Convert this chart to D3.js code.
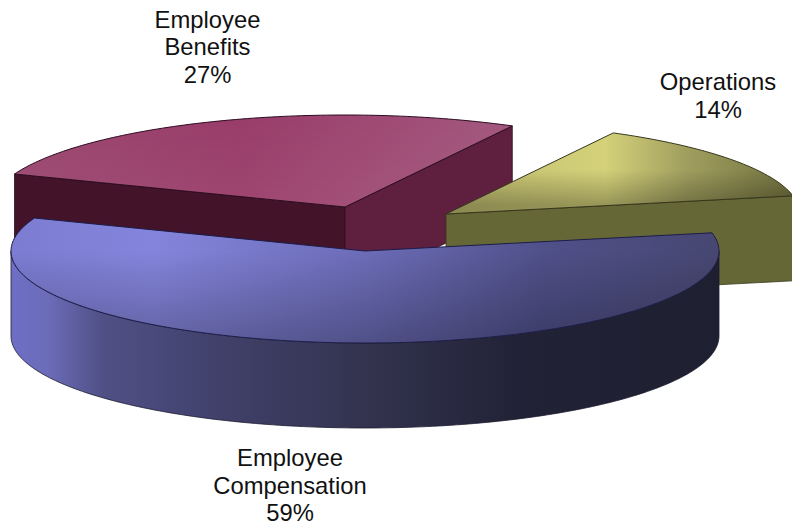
<!DOCTYPE html>
<html>
<head>
<meta charset="utf-8">
<script src="https://cdn.jsdelivr.net/npm/d3@7"></script>
<style>
  html, body { margin: 0; padding: 0; background: #fff; }
  svg { display: block; }
  text { font-family: "Liberation Sans", Arial, sans-serif; font-size: 23.8px; fill: #111; text-anchor: middle; }
</style>
</head>
<body>
<svg id="chart" width="792" height="529"></svg>
<script>
// Budget shares
const categories = ["Employee Compensation", "Employee Benefits", "Operations"];
const shares = [59, 27, 14];
const labelLines = [["Employee", "Compensation"], ["Employee", "Benefits"], ["Operations"]];

// Ellipse of the tilted disc and the depth of its rim
const rx = 354, ry = 92, depth = 85;
const firstAngle = 78.6 * Math.PI / 180;

// Exploded centre of each slice, and where its label block sits
const centres = [[365, 251], [345, 207], [446, 214]];
const labelAnchors = [[290, 466], [207.5, 27.5], [718, 90]];
const lineGap = 27.5;

// Back-to-front painting order
const paintOrder = [1, 2, 0];

// Paint per slice
const rimStops = [
  [[0, "#6e6ec6"], [0.05, "#6c6cba"], [0.13, "#505086"], [0.3, "#40406a"], [0.5, "#33334f"], [0.72, "#212236"], [1, "#1e1f30"]],
  [[0, "#431429"], [1, "#431429"]],
  [[0, "#666737"], [1, "#666737"]]
];
const topStops = [
  [[0, "#7c7cd2"], [0.2, "#8484dc"], [0.5, "#6c6cb8"], [0.75, "#50508a"], [1, "#474772"]],
  [[0, "#9a4870"], [0.35, "#993c69"], [0.7, "#a2557c"], [1, "#aa6288"]],
  [[0, "#c2bf70"], [0.45, "#d4d17a"], [0.68, "#a09e5e"], [1, "#6f6f3d"]]
];
const shadeStops = [
  [[0, "#000", 0], [0.5, "#000", 0], [1, "#000", 0.26]],
  [[0, "#fff", 0], [1, "#fff", 0.1]],
  [[0, "#000", 0], [0.26, "#000", 0], [0.45, "#000", 0.28], [1, "#000", 0.28]]
];
const startCutFill = ["#22223a", "#431429", "#3f4022"];
const endCutFill = ["#22223a", "#5f1f3f", "#666737"];
const edgeColor = ["#1c1c48", "#2c0c20", "#35361c"];

const svg = d3.select("#chart");
const defs = svg.append("defs");

const pie = d3.pie().sort(null).value(d => d)
  .startAngle(firstAngle).endAngle(firstAngle + 2 * Math.PI);
const slices = pie(shares);

const line = d3.line();
const deg = Math.PI / 180;

// Unit circle onto the tilted disc of one slice
function projector(i) {
  const [cx, cy] = centres[i];
  const x = d3.scaleLinear().domain([-1, 1]).range([cx - rx, cx + rx]);
  const y = d3.scaleLinear().domain([-1, 1]).range([cy + ry, cy - ry]);
  return (a, drop = 0) => [x(Math.sin(a)), y(Math.cos(a)) + drop];
}

function arcAngles(a0, a1) {
  const out = d3.range(a0, a1, deg);
  out.push(a1);
  return out;
}

function gradient(id, stops, vertical, x0, x1, y0, y1) {
  const g = defs.append("linearGradient").attr("id", id)
    .attr("gradientUnits", "userSpaceOnUse")
    .attr("x1", x0).attr("x2", vertical ? x0 : x1)
    .attr("y1", y0).attr("y2", vertical ? y1 : y0);
  g.selectAll("stop").data(stops).join("stop")
    .attr("offset", d => d[0])
    .attr("stop-color", d => d[1])
    .attr("stop-opacity", d => d[2] === undefined ? 1 : d[2]);
}

paintOrder.forEach(i => {
  const d = slices[i];
  const at = projector(i);
  const [cx, cy] = centres[i];
  const left = cx - rx, right = cx + rx;
  const g = svg.append("g").attr("class", "slice").attr("data-name", categories[i]);

  gradient("rim" + i, rimStops[i], false, left, right, 0, 0);
  gradient("top" + i, topStops[i], false, i === 2 ? cx : left, right, 0, 0);
  gradient("shade" + i, shadeStops[i], true, 0, 0, cy - ry, cy + ry);

  const centre = [cx, cy];

  // Cut faces that look towards the viewer
  [[d.startAngle, Math.sin(d.startAngle) < 0, startCutFill[i]],
   [d.endAngle, Math.sin(d.endAngle) > 0, endCutFill[i]]].forEach(([a, visible, fill]) => {
    if (!visible) return;
    g.append("path")
      .attr("d", line([centre, at(a), at(a, depth), [cx, cy + depth]]) + "Z")
      .attr("fill", fill)
      .attr("stroke", edgeColor[i])
      .attr("stroke-width", 0.8);
  });

  // Outer rim, front half of the disc only
  const from = Math.max(d.startAngle, Math.PI / 2);
  const to = Math.min(d.endAngle, 3 * Math.PI / 2);
  if (to > from) {
    const span = arcAngles(from, to);
    g.append("path")
      .attr("d", line(span.map(a => at(a)).concat(span.slice().reverse().map(a => at(a, depth)))) + "Z")
      .attr("fill", `url(#rim${i})`)
      .attr("stroke", "#1c1c30")
      .attr("stroke-width", 0.8);
  }

  // Top face with its colour sweep and a soft fall-off towards the front
  const topPath = line([centre].concat(arcAngles(d.startAngle, d.endAngle).map(a => at(a)))) + "Z";
  g.append("path").attr("d", topPath).attr("fill", `url(#top${i})`);
  g.append("path").attr("d", topPath).attr("fill", `url(#shade${i})`)
    .attr("stroke", edgeColor[i]).attr("stroke-width", 1);
});

// Category labels with their percentages
slices.forEach((d, i) => {
  const lines = labelLines[i].concat(d.value + "%");
  const [lx, ly] = labelAnchors[i];
  svg.append("text").selectAll("tspan").data(lines).join("tspan")
    .attr("x", lx)
    .attr("y", (t, k) => ly + k * lineGap)
    .text(t => t);
});
</script>
</body>
</html>
